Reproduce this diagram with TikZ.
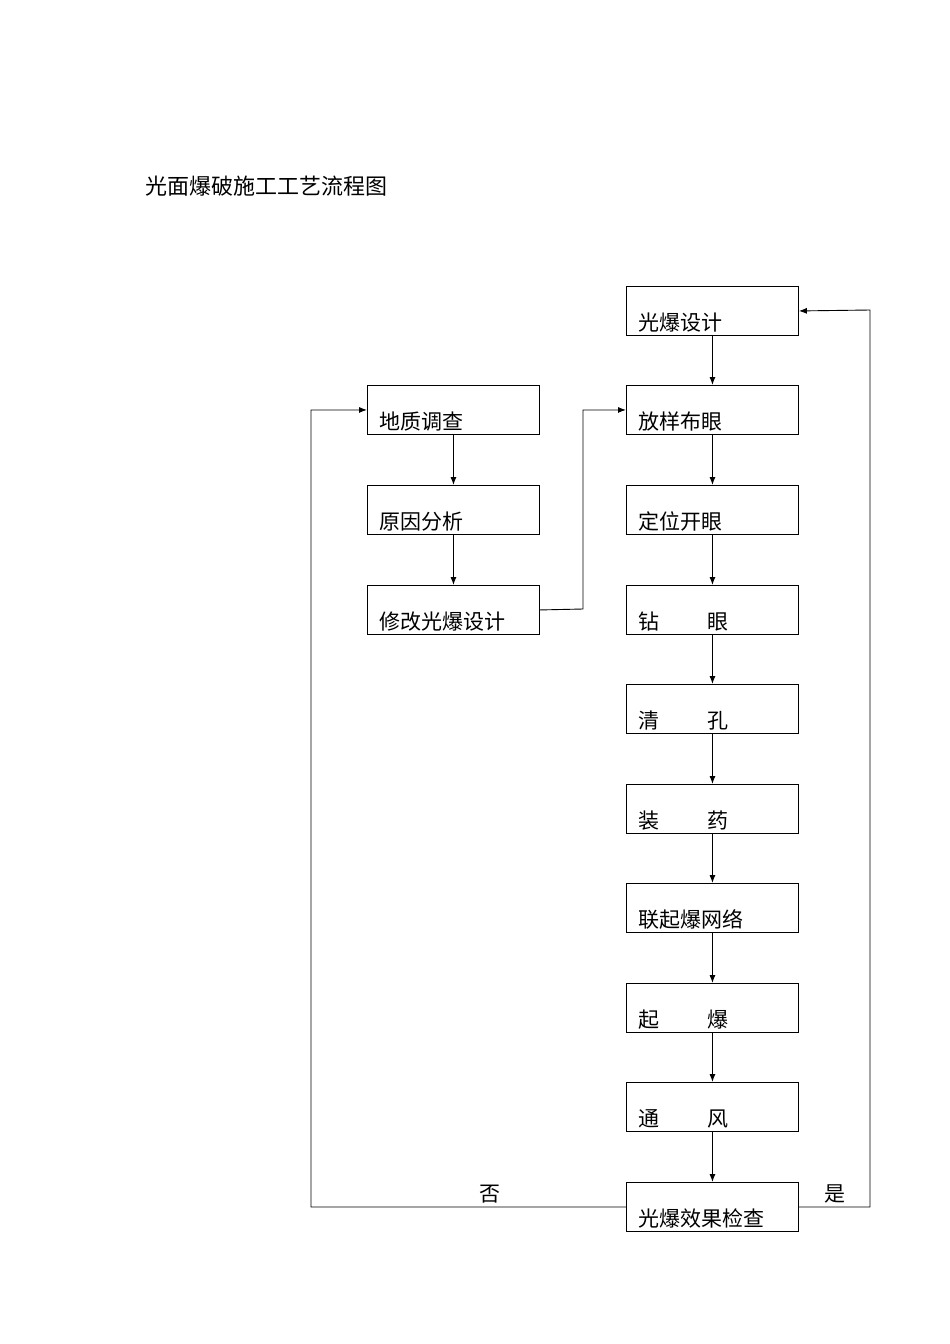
\documentclass[tikz,border=0pt]{standalone}
\usepackage{fontspec}
\setmainfont{Noto Sans CJK SC}
\usetikzlibrary{arrows.meta}
\begin{document}
\begin{tikzpicture}[x=1pt,y=-1pt,
  box/.style={draw,line width=0.9pt,minimum width=172pt,minimum height=49pt,anchor=north west,inner sep=0pt},
  txt/.style={anchor=base west,inner sep=0pt,font=\fontsize{21pt}{21pt}\selectfont},
  arr/.style={line width=0.9pt,-{Latex[length=8pt,width=6pt]}},
  ln/.style={line width=0.9pt}]
\useasboundingbox (0,0) rectangle (950,1344);
\node[anchor=base west,inner sep=0pt,font=\fontsize{22pt}{22pt}\selectfont] (title) at (145,194) {光面爆破施工工艺流程图};
% right column
\foreach \n/\y/\t in {r1/286/光爆设计,r2/385/放样布眼,r3/485/定位开眼,r4/585/钻\hspace{2.3em}眼,r5/684/清\hspace{2.3em}孔,r6/784/装\hspace{2.3em}药,r7/883/联起爆网络,r8/983/起\hspace{2.3em}爆,r9/1082/通\hspace{2.3em}风,r10/1182/光爆效果检查}{
  \node[box] (\n) at (626,\y) {};
  \node[txt] (\n t) at (638,\y+44) {\t};
}
\foreach \n/\y/\t in {l1/385/地质调查,l2/485/原因分析,l3/585/修改光爆设计}{
  \node[box] (\n) at (367,\y) {};
  \node[txt] (\n t) at (379,\y+44) {\t};
}
\foreach \a/\b in {r1/r2,r2/r3,r3/r4,r4/r5,r5/r6,r6/r7,r7/r8,r8/r9,r9/r10,l1/l2,l2/l3}{
  \draw[arr] (\a.south) -- (\b.north);
}
\coordinate (c1) at (583,609);
\coordinate (c2) at (583,410);
\draw[arr] (l3.east) -- (c1) -- (c2) -- (r2.west);
\coordinate (c3) at (311,1207);
\coordinate (c4) at (311,410);
\draw[arr] (r10.west) -- (c3) -- (c4) -- (l1.west);
\coordinate (c5) at (870,1207);
\coordinate (c6) at (870,310);
\draw[arr] (r10.east) -- (c5) -- (c6) -- (r1.east);
\node[txt] (no) at (479,1201) {否};
\node[txt] (yes) at (824,1201) {是};
\end{tikzpicture}
\end{document}
